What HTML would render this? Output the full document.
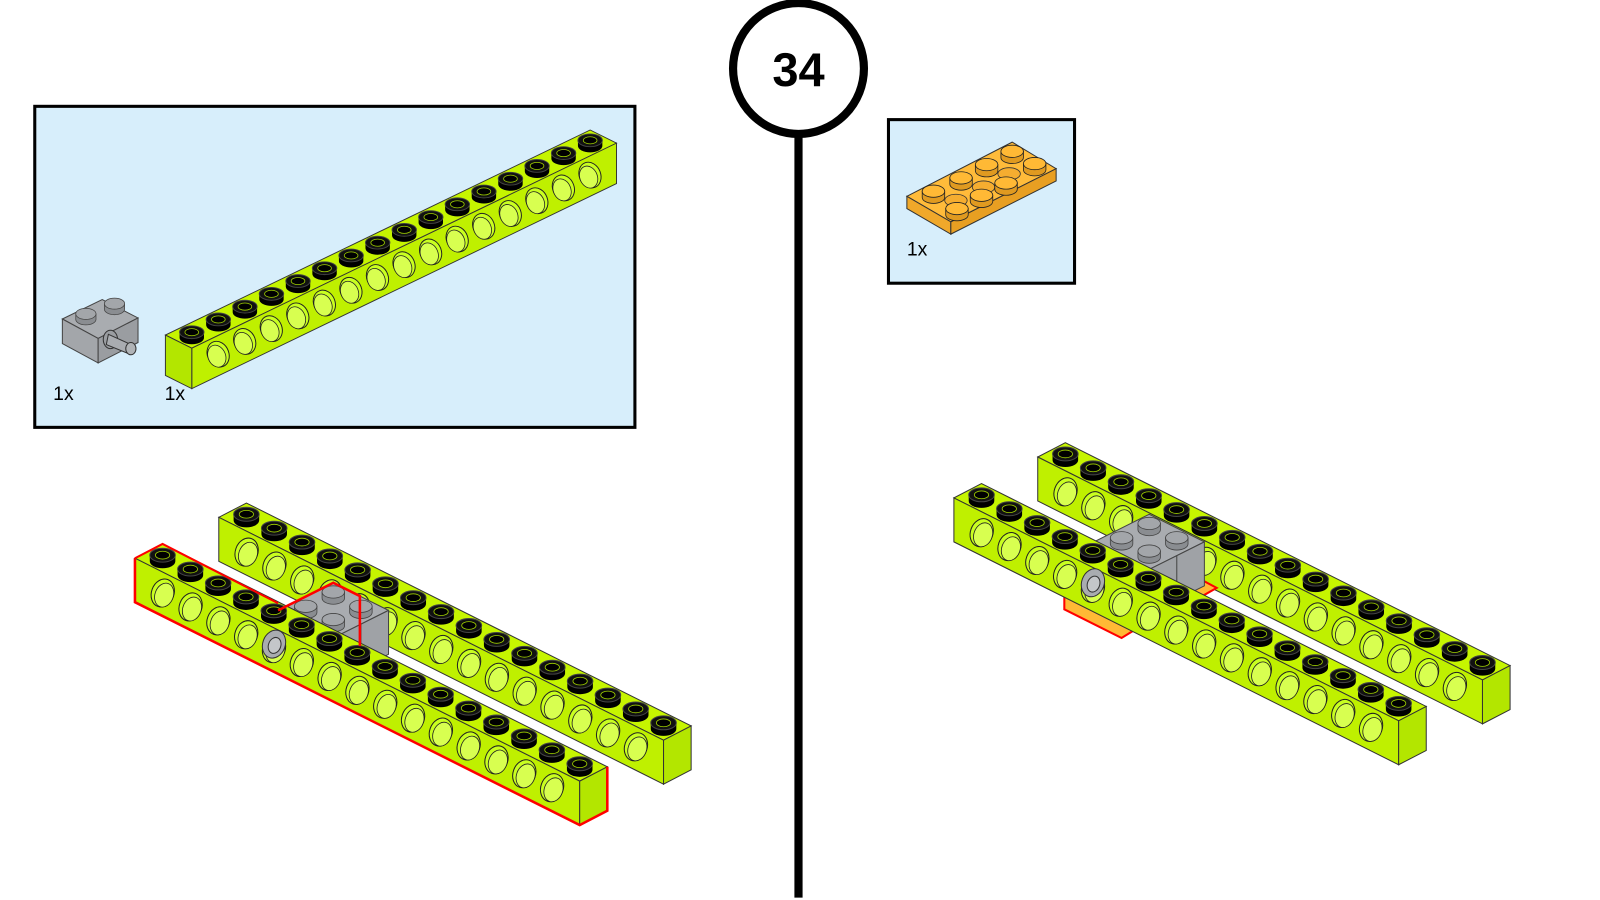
<!DOCTYPE html>
<html><head><meta charset="utf-8"><style>
html,body{margin:0;padding:0;background:#fff;}
svg{display:block;font-family:"Liberation Sans",sans-serif;}
</style></head><body>
<svg width="1600" height="900" viewBox="0 0 1600 900" xmlns="http://www.w3.org/2000/svg">
<defs>
  <g id="stud">
    <path d="M-12.5,0 L-12.5,6 A12.5,6.8 0 0 0 12.5,6 L12.5,0 Z" fill="#000"/>
    <ellipse cx="0" cy="0" rx="12.5" ry="6.8" fill="#111" stroke="#444" stroke-width="1"/>
    <ellipse cx="0" cy="0" rx="7" ry="3.8" fill="#000" stroke="#9fcf00" stroke-width="0.8"/>
  </g>
  <g id="s2"><use href="#stud"/><use href="#stud" transform="translate(27.2,13.6)"/></g>
  <g id="s4"><use href="#s2"/><use href="#s2" transform="translate(54.4,27.2)"/></g>
  <g id="s8"><use href="#s4"/><use href="#s4" transform="translate(108.8,54.4)"/></g>
  <g id="s16"><use href="#s8"/><use href="#s8" transform="translate(217.6,108.8)"/></g>
  <g id="hole">
    <ellipse cx="0" cy="0" rx="11" ry="14" transform="rotate(20)" fill="#c9ff20" stroke="#222" stroke-width="1"/>
    <ellipse cx="2" cy="1.5" rx="9" ry="12" transform="rotate(20)" fill="#d8ff50" stroke="#222" stroke-width="0.8"/>
  </g>
  <g id="h1"><use href="#hole"/></g>
  <g id="h2"><use href="#hole"/><use href="#hole" transform="translate(27.2,13.6)"/></g>
  <g id="h4"><use href="#h2"/><use href="#h2" transform="translate(54.4,27.2)"/></g>
  <g id="h8"><use href="#h4"/><use href="#h4" transform="translate(108.8,54.4)"/></g>
  <g id="h15"><use href="#h8"/><use href="#h4" transform="translate(217.6,108.8)"/><use href="#h2" transform="translate(326.4,163.2)"/><use href="#h1" transform="translate(380.8,190.4)"/></g>
  <g id="beam">
    <polygon points="0,0 435,218 462,204 27,-14" fill="#c6f500" stroke="#333" stroke-width="1"/>
    <polygon points="0,0 435,218 435,261 0,43" fill="#bff000" stroke="#333" stroke-width="1"/>
    <polygon points="435,218 462,204 462,247 435,261" fill="#b3e600" stroke="#333" stroke-width="1"/>
    <use href="#s16" transform="translate(27,-3)"/>
    <use href="#h15" transform="translate(27.2,34)"/>
  </g>
  <g id="gstud">
    <path d="M-11,0 L-11,6 A11,6 0 0 0 11,6 L11,0 Z" fill="#8a8d91" stroke="#444" stroke-width="0.8"/>
    <ellipse cx="0" cy="0" rx="11" ry="6" fill="#a3a6aa" stroke="#444" stroke-width="0.8"/>
  </g>
  <g id="brick">
    <polygon points="0,0 54,27 108,0 54,-27" fill="#a9acb0" stroke="#444" stroke-width="1"/>
    <polygon points="54,27 108,0 108,43 54,70" fill="#9fa2a6" stroke="#444" stroke-width="1"/>
    <line x1="81" y1="13.5" x2="81" y2="56" stroke="#444"/>
    <polygon points="0,0 54,27 54,70 0,43" fill="#a5a8ac" stroke="#444" stroke-width="1"/>
    <use href="#gstud" transform="translate(54,-18)"/>
    <use href="#gstud" transform="translate(27,-4)"/>
    <use href="#gstud" transform="translate(81,-4)"/>
    <use href="#gstud" transform="translate(54,9)"/>
  </g>
  <g id="pinhole">
    <ellipse cx="0" cy="0" rx="11" ry="14" transform="rotate(20)" fill="#a9acb0" stroke="#333"/>
    <ellipse cx="1" cy="1" rx="6" ry="8" transform="rotate(20)" fill="#c4c6c9" stroke="#333"/>
  </g>
  <g id="ostud">
    <path d="M-11,0 L-11,6 A11,6 0 0 0 11,6 L11,0 Z" fill="#e09a20" stroke="#222" stroke-width="0.8"/>
    <ellipse cx="0" cy="0" rx="11" ry="6" fill="#ffb935" stroke="#222" stroke-width="0.8"/>
  </g>
</defs>
<g transform="scale(1.0224)">
<line x1="781" y1="125" x2="781" y2="878" stroke="#000" stroke-width="8"/>
<circle cx="781" cy="67" r="64" fill="#fff" stroke="#000" stroke-width="8"/>
<text x="781" y="84" text-anchor="middle" font-size="46" font-weight="bold" fill="#000">34</text>

<rect x="34" y="104" width="587" height="314" fill="#d7eefb" stroke="#000" stroke-width="3"/>
<use href="#beam" transform="translate(603,140) scale(-0.955,0.92)"/>
<g transform="translate(0,-6)">
  <polygon points="61,318 100,299 135,317 96,337" fill="#a9acb0" stroke="#444"/>
  <polygon points="61,318 96,337 96,361 61,342" fill="#a3a6aa" stroke="#444"/>
  <polygon points="96,337 135,317 135,341 96,361" fill="#9a9da1" stroke="#444"/>
  <use href="#gstud" transform="translate(84,313) scale(0.9)"/>
  <use href="#gstud" transform="translate(112,303) scale(0.9)"/>
  <ellipse cx="108" cy="338" rx="7" ry="9" fill="#9a9da1" stroke="#333"/>
  <polygon points="106,333 128,343 126,352 104,343" fill="#a9acb0" stroke="#333"/>
  <ellipse cx="128" cy="347" rx="5" ry="6" fill="#b0b3b6" stroke="#333"/>
</g>
<text x="52" y="391" font-size="19" fill="#000">1x</text>
<text x="161" y="391" font-size="19" fill="#000">1x</text>

<rect x="869" y="117" width="182" height="160" fill="#d7eefb" stroke="#000" stroke-width="3"/>
<g>
  <polygon points="887,192 990,139 1033,165 930,217" fill="#ffbb3a" stroke="#333"/>
  <polygon points="887,192 930,217 930,229 887,204" fill="#f0a82a" stroke="#333"/>
  <polygon points="930,217 1033,165 1033,177 930,229" fill="#e89f22" stroke="#333"/>
  <use href="#ostud" transform="translate(990,148)"/>
  <use href="#ostud" transform="translate(1012,160)"/>
  <use href="#ostud" transform="translate(965,161)"/>
  <ellipse cx="987" cy="170" rx="11" ry="6" fill="#f5ad30" stroke="#333" stroke-width="0.8"/>
  <use href="#ostud" transform="translate(940,174)"/>
  <ellipse cx="962" cy="183" rx="11" ry="6" fill="#f5ad30" stroke="#333" stroke-width="0.8"/>
  <use href="#ostud" transform="translate(984,179)"/>
  <use href="#ostud" transform="translate(913,187)"/>
  <ellipse cx="935" cy="196" rx="11" ry="6" fill="#f5ad30" stroke="#333" stroke-width="0.8"/>
  <use href="#ostud" transform="translate(960,191)"/>
  <use href="#ostud" transform="translate(936,204)"/>
</g>
<text x="887" y="250" font-size="19" fill="#000">1x</text>

<use href="#beam" transform="translate(214,506)"/>
<use href="#brick" transform="translate(272,597)"/>
<use href="#beam" transform="translate(132,546)"/>
<use href="#pinhole" transform="translate(268,630)"/>
<polyline points="132,546 132,589 567,807 594,793 594,750" fill="none" stroke="#f00" stroke-width="2.5"/>
<polyline points="132,546 159,532 272,590" fill="none" stroke="#f00" stroke-width="2"/>
<polyline points="272,597 326,570 352,583 352,632" fill="none" stroke="#f00" stroke-width="2.5"/>

<use href="#beam" transform="translate(1015,447)"/>
<polygon points="1160,575 1175,567 1190,575 1176,583" fill="#ffb935" stroke="#f00" stroke-width="2"/>
<use href="#brick" transform="translate(1070,530)"/>
<polygon points="1041,583 1041,596 1097,624 1110,616 1097,609 1041,583" fill="#ffb935" stroke="#f00" stroke-width="2"/>
<use href="#beam" transform="translate(933,487)"/>
<use href="#pinhole" transform="translate(1069,570)"/>
</g>
</svg>
</body></html>
